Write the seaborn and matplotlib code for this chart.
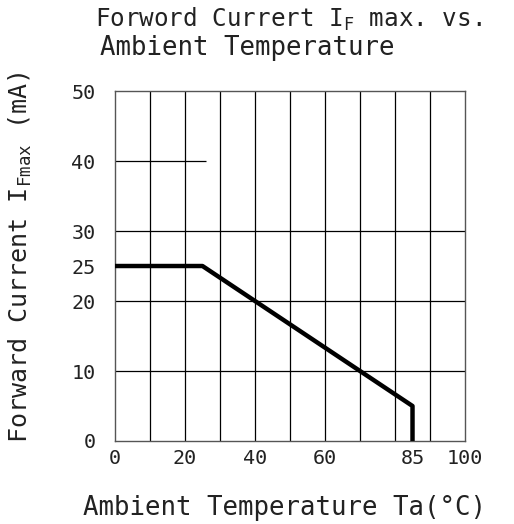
import matplotlib
matplotlib.use('Agg')
import matplotlib.pyplot as plt
import seaborn as sns
import pandas as pd

# derating curve
temperature = [0, 25, 85, 85]
current_max = [25, 25, 5, 0]

x_ticks = [0, 20, 40, 60, 85, 100]
y_ticks = [0, 10, 20, 25, 30, 40, 50]

x_grid = [10, 20, 30, 40, 50, 60, 70, 80, 90]
y_grid = [10, 20, 30]
y_grid_short = 40  # only drawn part way across
y_grid_short_end = 26


def main():
    sns.set_theme(style='white')
    plt.rcParams['font.family'] = ['DejaVu Sans Mono']

    df = pd.DataFrame({'Temperature': temperature, 'Current': current_max})

    fig = plt.figure(figsize=(5.14, 5.24), dpi=100)
    ax = fig.add_axes([0.2237, 0.1584, 0.681, 0.6679])

    for x in x_grid:
        ax.axvline(x, color='black', lw=0.9, zorder=1)
    for y in y_grid:
        ax.axhline(y, color='black', lw=0.9, zorder=1)
    ax.hlines(y_grid_short, 0, y_grid_short_end, color='black', lw=0.9, zorder=1)

    sns.lineplot(
        data=df,
        x='Temperature',
        y='Current',
        sort=False,
        estimator=None,
        color='black',
        lw=3.2,
        ax=ax,
        zorder=3
    )

    ax.set_xlim(0, 100)
    ax.set_ylim(0, 50)
    ax.set_xticks(x_ticks)
    ax.set_yticks(y_ticks)
    ax.set_xticklabels([str(t) for t in x_ticks])
    ax.set_yticklabels([str(t) for t in y_ticks])
    ax.tick_params(axis='both', length=0, labelsize=14.5, colors='#222222')
    ax.tick_params(axis='y', pad=14)
    ax.tick_params(axis='x', pad=6)
    ax.set_xlabel('')
    ax.set_ylabel('')

    for spine in ax.spines.values():
        spine.set_color('#555555')
        spine.set_linewidth(1.0)

    fig.text(0.185, 0.948, r'Forword Currert $\mathregular{I_F}$ max. vs.',
             ha='left', va='baseline', fontsize=17.5, color='#222222')
    fig.text(0.195, 0.895, 'Ambient Temperature',
             ha='left', va='baseline', fontsize=18.5, color='#222222')
    fig.text(0.161, 0.017, 'Ambient Temperature Ta(°C)',
             ha='left', va='baseline', fontsize=18.5, color='#222222')
    fig.text(0.039, 0.508, r'Forward Current $\mathregular{I_{Fmax}}$ (mA)',
             ha='center', va='center', rotation=90, fontsize=18, color='#222222')

    fig.savefig('out.png', dpi=100)


if __name__ == '__main__':
    main()
